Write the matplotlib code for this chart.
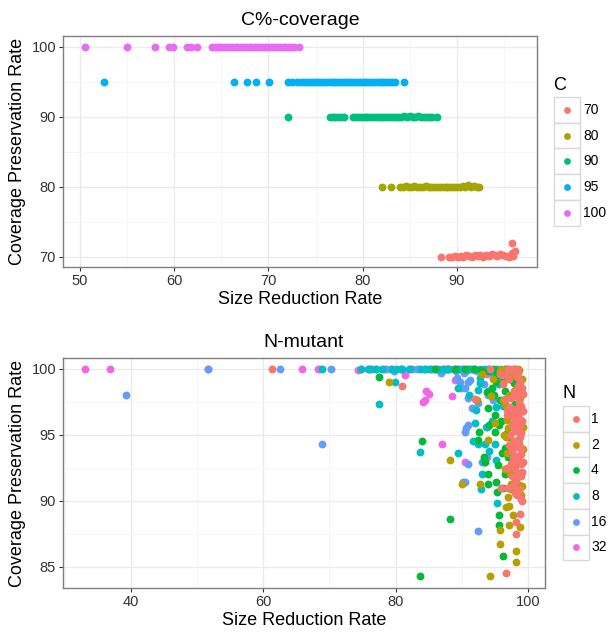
import matplotlib
matplotlib.use("Agg")
import matplotlib.pyplot as plt
from matplotlib.patches import Rectangle

plt.rcParams['font.family'] = ['Liberation Sans', 'DejaVu Sans']

# ---- C%-coverage data ----
c_levels = ['70', '80', '90', '95', '100']
c_colors = ['#F8766D', '#A3A500', '#00BF7D', '#00B0F6', '#E76BF3']

c70_x = [88.3, 89.2, 89.5, 89.8, 90.1, 90.4, 90.7, 91.0, 91.3, 91.6, 91.9, 92.2, 92.5,
         92.8, 93.1, 93.4, 93.7, 94.0, 94.3, 94.6, 94.9, 95.2, 95.5, 95.8, 95.8, 96.0, 96.2]
c70_y = [70.0, 70.0, 70.0, 70.1, 70.0, 70.1, 70.0, 70.2, 70.1, 70.0, 70.2, 70.1, 70.2,
         70.0, 70.2, 70.1, 70.3, 70.2, 70.1, 70.3, 70.2, 70.1, 70.0, 70.5, 71.9, 70.1, 70.8]
c80_x = [82.0, 83.0, 84.0, 84.3, 84.6, 84.9, 85.2, 85.5, 85.8, 86.1, 86.4, 86.7, 87.0,
         87.3, 87.6, 87.9, 88.2, 88.5, 88.8, 89.1, 89.4, 89.7, 90.0, 90.3, 90.6, 90.9,
         91.2, 91.5, 91.8, 92.1, 92.3]
c80_y = [80.0, 80.0, 80.0, 80.0, 80.1, 80.0, 80.0, 80.1, 80.0, 80.0, 80.0, 80.1, 80.0,
         80.0, 80.0, 79.9, 80.0, 80.0, 80.0, 80.0, 80.0, 80.0, 80.0, 80.0, 80.1, 80.0,
         80.2, 80.0, 80.1, 80.0, 79.9]
c90_x = [72.1, 76.5, 76.8, 77.1, 77.4, 77.7, 78.0, 79.0, 79.3, 79.6, 79.9, 80.2, 80.5,
         80.8, 81.1, 81.4, 81.7, 82.0, 82.3, 82.6, 82.9, 83.2, 83.5, 83.8, 84.1, 84.4,
         84.7, 85.0, 85.3, 85.6, 85.9, 86.2, 86.5, 86.8, 87.1, 87.4, 87.9]
c90_y = [90.0, 90.0, 90.0, 90.0, 90.0, 90.0, 90.0, 90.0, 90.0, 90.0, 90.0, 90.0, 90.0,
         90.0, 90.0, 90.0, 90.0, 90.0, 90.0, 90.0, 90.0, 90.0, 90.0, 90.0, 90.0, 90.1,
         90.0, 90.1, 90.0, 90.0, 90.1, 90.0, 89.9, 90.0, 90.0, 90.0, 90.0]
c95_x = [52.5, 66.3, 67.7, 68.7, 70.1, 72.1, 72.5, 73.0, 73.5, 73.8, 74.1, 74.4, 74.7,
         75.0, 75.3, 75.6, 75.9, 76.2, 76.5, 76.8, 77.1, 77.4, 77.7, 78.0, 78.3, 78.6,
         78.9, 79.2, 79.5, 79.8, 80.1, 80.4, 80.7, 81.0, 81.3, 81.6, 81.9, 82.2, 82.5,
         82.8, 83.1, 83.4, 84.4]
c95_y = [95.0] * len(c95_x)
c100_x = [50.5, 55.0, 58.0, 59.4, 59.9, 61.4, 61.8, 62.4, 64.0, 64.3, 64.6, 64.9, 65.2,
          65.5, 65.8, 66.1, 66.4, 66.7, 67.0, 67.3, 67.6, 67.9, 68.2, 68.5, 68.8, 69.1,
          69.4, 69.7, 70.0, 70.3, 70.6, 70.9, 71.2, 71.5, 71.8, 72.1, 72.4, 72.7, 73.2]
c100_y = [100.0] * len(c100_x)

c_x = [c70_x, c80_x, c90_x, c95_x, c100_x]
c_y = [c70_y, c80_y, c90_y, c95_y, c100_y]

# ---- N-mutant data ----
n_levels = ['1', '2', '4', '8', '16', '32']
n_colors = ['#F8766D', '#B79F00', '#00BA38', '#00BFC4', '#619CFF', '#F564E3']

n1_x = [61.3, 97.0, 97.5, 98.0, 98.3, 80.9, 96.5, 97.2, 97.8, 98.4, 98.8, 98.6, 97.9, 98.9,
        98.3, 97.5, 98.7, 99.0, 98.2, 97.4, 96.8, 98.5, 98.0, 98.9, 97.6, 98.6, 98.1, 97.3,
        98.8, 97.9, 98.4, 99.0, 97.6, 98.2, 98.7, 97.4, 98.9, 98.1, 98.5, 97.6, 99.0, 98.2,
        97.8, 98.6, 96.0, 98.3, 98.9, 99.1, 98.2, 98.2, 98.8, 96.7, 96.6, 96.2, 95.8, 92.0,
        94.3, 97.0, 98.0, 96.9, 97.2, 96.9, 99.1, 99.2, 99.0, 98.5,
        99.2, 98.9, 99.1, 98.6, 97.7, 99.2, 98.4, 97.9, 99.0, 98.7, 97.3, 99.1, 98.0, 98.8]
n1_y = [100.0, 100.0, 100.0, 100.0, 99.9, 98.7, 99.5, 99.2, 99.8, 99.4, 99.0, 98.6, 98.3, 98.2,
        97.9, 97.8, 97.5, 97.0, 96.9, 96.6, 96.5, 96.5, 96.2, 96.1, 95.8, 95.6, 95.3, 95.0,
        94.8, 94.5, 94.1, 93.9, 93.8, 93.4, 93.1, 92.8, 92.8, 92.5, 92.1, 91.9, 91.9, 91.5,
        91.2, 90.9, 91.0, 90.4, 90.1, 90.0, 87.5, 88.4, 89.0, 84.5, 97.7, 98.8, 99.6, 97.7,
        100.0, 91.0, 90.6, 92.5, 94.2, 96.9, 98.5, 96.8, 95.1, 99.7,
        98.1, 97.2, 96.0, 94.4, 93.2, 92.9, 91.8, 95.5, 93.5, 98.8, 97.1, 92.2, 92.9, 95.9]
n2_x = [79.0, 88.3, 90.0, 92.8, 94.3, 98.2, 98.2, 95.8, 95.8, 97.2, 98.8, 97.7, 96.7, 97.1,
        97.0, 97.5, 98.0, 97.3, 98.6, 96.6, 97.8, 98.3, 96.9, 97.6, 98.5, 96.4, 97.0, 98.1,
        99.0, 96.8, 97.6, 98.4, 96.5, 98.8, 97.1, 98.0, 99.1, 96.3, 97.4, 95.8, 98.6, 92.3,
        94.4, 95.1, 94.0, 99.0, 97.4, 98.9, 94.8, 93.0, 96.0, 98.5,
        99.2, 97.9, 96.2, 98.7, 97.2, 99.1, 96.7, 98.3, 97.7, 99.2]
n2_y = [99.0, 93.1, 91.3, 91.3, 84.3, 85.4, 86.2, 86.7, 87.8, 88.2, 88.0, 88.9, 89.5, 89.6,
        90.3, 90.9, 91.5, 92.0, 91.2, 92.4, 92.7, 93.2, 93.6, 94.3, 94.6, 95.0, 95.5, 95.8,
        95.3, 96.1, 96.7, 97.0, 97.3, 97.8, 98.0, 98.4, 99.2, 98.9, 99.5, 99.8, 99.9, 97.6,
        97.9, 95.9, 94.6, 94.0, 91.3, 90.4, 99.2, 99.6, 100.0, 100.0,
        95.6, 93.0, 97.6, 90.8, 96.4, 91.1, 94.8, 98.6, 92.3, 93.9]
n4_x = [77.5, 84.0, 83.7, 88.2, 95.7, 95.7, 96.2, 93.5, 94.0, 95.2, 92.5, 94.0, 95.4, 96.3,
        97.0, 96.5, 95.0, 94.2, 95.6, 96.0, 94.0, 95.0, 93.8, 94.6, 95.8, 96.6, 97.3, 96.2,
        95.3, 94.0, 97.1, 98.0, 97.7, 97.0, 96.5, 92.6, 93.4, 95.5, 92.9, 91.8, 94.8, 96.8,
        98.0, 90.5, 86.0, 89.0,
        97.6, 96.9, 95.2, 97.9, 96.1, 94.9, 97.4]
n4_y = [99.4, 94.5, 84.3, 88.6, 88.9, 88.2, 85.8, 92.9, 92.0, 91.4, 94.6, 91.3, 90.7, 91.0,
        93.3, 94.0, 95.2, 95.7, 95.7, 96.0, 97.0, 96.5, 98.2, 98.5, 97.6, 98.3, 97.0, 99.0,
        99.5, 99.8, 99.6, 97.3, 95.8, 94.8, 92.0, 95.2, 93.3, 92.7, 99.9, 100.0, 100.0, 100.0,
        100.0, 100.0, 100.0, 100.0,
        99.1, 95.1, 99.0, 98.9, 93.6, 98.0, 92.5]
n8_x = [68.8, 77.5, 79.9, 83.7, 89.5, 92.0, 92.7, 92.5, 94.0, 95.2, 89.5, 91.7, 93.5, 95.0,
        94.2, 93.0, 92.9, 95.2, 92.5, 95.4, 93.3, 92.2, 94.6, 93.9, 95.6, 96.3, 91.1, 92.8,
        94.8, 96.0, 97.8, 74.8, 76.0, 77.0, 78.0, 79.5, 80.0, 83.8, 85.0, 86.3, 88.0, 90.8,
        92.0, 93.4, 95.3, 96.5,
        81.0, 82.2, 84.5, 87.2, 89.4, 91.5, 94.2, 96.9]
n8_y = [100.0, 97.3, 99.0, 93.7, 98.5, 95.9, 98.9, 98.4, 98.3, 97.1, 93.6, 94.5, 94.3, 94.3,
        93.8, 92.0, 90.9, 93.1, 94.3, 89.8, 92.9, 96.9, 96.0, 95.6, 98.8, 97.2, 98.0, 99.3,
        99.7, 99.9, 100.0, 100.0, 100.0, 100.0, 100.0, 100.0, 100.0, 100.0, 100.0, 100.0,
        100.0, 100.0, 100.0, 100.0, 100.0, 100.0,
        100.0, 100.0, 100.0, 100.0, 100.0, 100.0, 100.0, 99.8]
n16_x = [39.2, 51.6, 62.5, 68.8, 70.3, 86.9, 91.0, 91.2, 90.5, 91.0, 92.5, 91.5, 90.6, 91.0,
         93.7, 94.0, 94.7, 90.5, 93.0, 91.0, 90.2, 90.5, 93.9, 92.4, 89.3, 89.7, 93.3, 95.5,
         92.3, 74.8, 75.8, 77.0, 78.5, 79.3, 79.8, 82.0, 84.5, 86.0, 87.0, 88.0, 89.0, 90.0,
         91.3, 92.8, 93.8, 94.5, 89.2, 90.3,
         76.3, 80.6, 83.2, 85.3, 87.6, 90.6, 96.4]
n16_y = [98.0, 100.0, 100.0, 94.3, 100.0, 99.7, 99.0, 99.1, 98.5, 97.8, 97.4, 97.0, 95.5, 95.7,
         95.6, 98.0, 97.6, 95.2, 92.9, 92.8, 91.4, 91.4, 93.3, 87.7, 99.3, 99.0, 98.8, 99.3,
         99.8, 100.0, 100.0, 100.0, 100.0, 100.0, 99.8, 100.0, 100.0, 100.0, 99.8, 100.0,
         100.0, 100.0, 100.0, 100.0, 100.0, 99.9, 99.8, 99.7,
         100.0, 100.0, 100.0, 100.0, 100.0, 99.8, 99.6]
n32_x = [33.0, 36.8, 51.6, 65.9, 68.3, 68.5, 74.3, 81.5, 84.6, 84.1, 84.4, 88.5, 89.0, 89.9,
         87.0, 90.5, 76.5, 78.2, 80.8, 82.5, 83.6, 85.5, 86.5, 87.2, 87.8, 88.4, 89.0, 89.6,
         90.2, 91.0, 92.0, 85.0, 93.8]
n32_y = [100.0, 100.0, 100.0, 100.0, 100.0, 100.0, 99.9, 99.5, 98.3, 97.5, 97.6, 97.9, 99.1,
         98.5, 94.3, 92.9, 100.0, 100.0, 100.0, 100.0, 100.0, 100.0, 100.0, 100.0, 100.0,
         100.0, 100.0, 100.0, 100.0, 100.0, 99.9, 98.1, 99.6]

n_x = [n1_x, n2_x, n4_x, n8_x, n16_x, n32_x]
n_y = [n1_y, n2_y, n4_y, n8_y, n16_y, n32_y]

W, H = 608, 634
fig = plt.figure(figsize=(W / 100, H / 100), dpi=100)


def px_axes(left, top, right, bottom):
    return fig.add_axes([left / W, 1 - bottom / H, (right - left) / W, (bottom - top) / H])


def style(ax, xticks, xminor, yticks, yminor, xlim, ylim, title):
    ax.set_xlim(*xlim)
    ax.set_ylim(*ylim)
    ax.set_xticks(xticks)
    ax.set_xticks(xminor, minor=True)
    ax.set_yticks(yticks)
    ax.set_yticks(yminor, minor=True)
    ax.grid(True, which='major', color='#EBEBEB', lw=1.0, zorder=0)
    ax.grid(True, which='minor', color='#F5F5F5', lw=0.6, zorder=0)
    ax.set_axisbelow(True)
    ax.tick_params(which='major', length=3, width=0.8, color='#333333',
                   labelsize=10.5, labelcolor='#333333', pad=2)
    ax.tick_params(which='minor', length=0)
    for s in ax.spines.values():
        s.set_color('#7F7F7F')
        s.set_linewidth(1.0)
    ax.set_xlabel('Size Reduction Rate', fontsize=13, labelpad=2)
    ax.set_ylabel('Coverage Preservation Rate', fontsize=13, labelpad=4)
    ax.set_title(title, fontsize=14, pad=8)


def legend(title, labels, colors, left, top, tx):
    key = 25.7
    n = len(labels)
    lax = px_axes(left, top, left + key, top + key * n)
    lax.set_xlim(0, 1)
    lax.set_ylim(n, 0)
    lax.axis('off')
    for i, (lab, col) in enumerate(zip(labels, colors)):
        lax.add_patch(Rectangle((0, i), 1, 1, facecolor='white', edgecolor='#D9D9D9',
                                lw=1.0, clip_on=False))
        lax.scatter([0.5], [i + 0.5], s=24, color=col, linewidths=0, clip_on=False)
        fig.text(tx / W, 1 - (top + key * (i + 0.5)) / H, lab, fontsize=10,
                 va='center', ha='left')
    fig.text((left - 1) / W, 1 - (top - 12) / H, title, fontsize=13, va='center', ha='left')


# top panel
ax1 = px_axes(63, 36, 537, 267)
for xs, ys, col in zip(c_x, c_y, c_colors):
    ax1.scatter(xs, ys, s=32, color=col, linewidths=0, zorder=3)
style(ax1, [50, 60, 70, 80, 90], [55, 65, 75, 85, 95], [70, 80, 90, 100], [75, 85, 95],
      (48.2, 98.5), (68.5, 101.5), 'C%-coverage')
legend('C', c_levels, c_colors, 554, 97, 583)

# bottom panel
ax2 = px_axes(63, 358, 545, 588)
for xs, ys, col in reversed(list(zip(n_x, n_y, n_colors))):
    ax2.scatter(xs, ys, s=32, color=col, linewidths=0, zorder=3)
style(ax2, [40, 60, 80, 100], [30, 50, 70, 90], [85, 90, 95, 100], [87.5, 92.5, 97.5],
      (29.7, 102.6), (83.4, 100.8), 'N-mutant')
legend('N', n_levels, n_colors, 563, 406, 591)

fig.savefig('out.png', dpi=100)
